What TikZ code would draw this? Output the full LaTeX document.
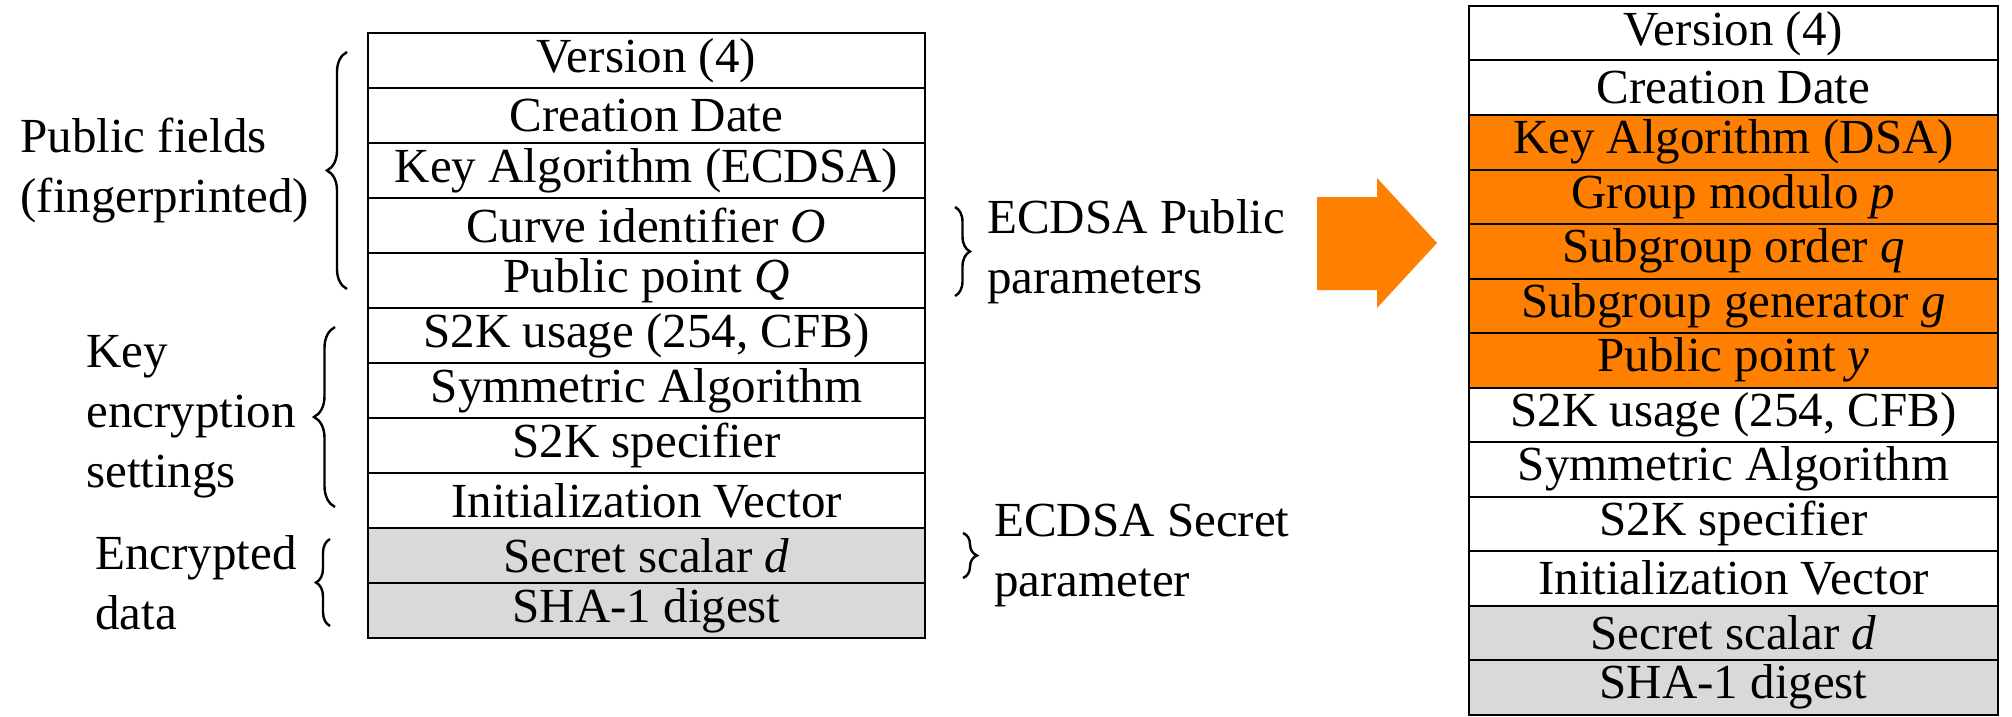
\documentclass[tikz,border=0pt]{standalone}
\usepackage{fontspec}
\setmainfont{Liberation Serif}
\usetikzlibrary{
  calc,
  decorations.pathreplacing,
  positioning
}
\definecolor{swap orange}{RGB}{255,128,0}
\definecolor{secret gray}{RGB}{217,217,217}
\tikzset{
  % For all texts.
  text font/.style={
    font=\fontsize{24.5pt}{30pt}\selectfont},
%
  % For the rows of a key packet.
  field/.style={
    draw,
    line width=1pt,
    rectangle,
    inner sep=0pt,
    outer sep=0pt,
    text font},
%
  % For the rows of the original ECDSA packet.
  ecdsa field/.style={
    field,
    minimum width=278.5pt,
    minimum height=27.5pt},
%
  % For the rows of the forged DSA packet.
  dsa field/.style={
    field,
    minimum width=264.5pt,
    minimum height=27.25pt},
%
  % For rows that stay encrypted.
  encrypted/.style={
    fill=secret gray},
%
  % For rows that get replaced.
  replaced/.style={
    fill=swap orange},
%
  % For curly braces grouping rows.
  group brace/.style={
    decorate,
    decoration={brace, amplitude=#1},
    line width=1.2pt},
%
  % For the names of the groups.
  description/.style={
    text font,
    align=left,
    inner sep=0pt}
}

\begin{document}
\begin{tikzpicture}[x=0.5pt, y=-0.5pt]
  \useasboundingbox (0,0) rectangle (2012,717);

  % Original ECDSA packet.
  \node[ecdsa field] (ecdsa version) at (646.5,60.5) {Version (4)};
  \node[ecdsa field, below=0pt of ecdsa version] (ecdsa date) {Creation Date};
  \node[ecdsa field, below=0pt of ecdsa date] (ecdsa algo) {Key Algorithm (ECDSA)};
  \node[ecdsa field, below=0pt of ecdsa algo] (ecdsa curve) {Curve identifier \textit{O}};
  \node[ecdsa field, below=0pt of ecdsa curve] (ecdsa point) {Public point \textit{Q}};
  \node[ecdsa field, below=0pt of ecdsa point] (ecdsa usage) {S2K usage (254, CFB)};
  \node[ecdsa field, below=0pt of ecdsa usage] (ecdsa sym) {Symmetric Algorithm};
  \node[ecdsa field, below=0pt of ecdsa sym] (ecdsa spec) {S2K specifier};
  \node[ecdsa field, below=0pt of ecdsa spec] (ecdsa iv) {Initialization Vector};
  \node[ecdsa field, encrypted,
        below=0pt of ecdsa iv] (ecdsa secret) {Secret scalar \textit{d}};
  \node[ecdsa field, encrypted,
        below=0pt of ecdsa secret] (ecdsa digest) {SHA-1 digest};

  \draw[group brace=10pt] ($(ecdsa point.south west) + (-21,-19)$)
                            -- ($(ecdsa version.north west) + (-21,19)$)
        node [description, midway, anchor=east, xshift=-18.5pt]
             (public fields) {Public fields\\(fingerprinted)};
  \draw[group brace=10.5pt] ($(ecdsa iv.south west) + (-33,-21)$)
                              -- ($(ecdsa usage.north west) + (-33,19)$)
        node [description, midway, anchor=east, xshift=-19pt]
             (key settings) {Key\\encryption\\settings};
  \draw[group brace=7pt] ($(ecdsa digest.south west) + (-38,-12)$)
                           -- ($(ecdsa secret.north west) + (-38,11)$)
        node [description, midway, anchor=east, xshift=-16pt]
             (encrypted data) {Encrypted\\data};

  \draw[group brace=7.5pt] ($(ecdsa curve.north east) + (30,9)$)
                             -- ($(ecdsa point.south east) + (30,-12)$)
        node [description, midway, anchor=west, xshift=15.5pt]
             (public params) {ECDSA Public\\parameters};
  \draw[group brace=7pt] ($(ecdsa secret.north east) + (38,5)$)
                           -- ($(ecdsa secret.south east) + (38,-5)$)
        node [description, midway, anchor=west, xshift=15pt]
             (secret param) {ECDSA Secret\\parameter};

  % Swapping the algorithm.
  \fill[swap orange] (1317,197) -- (1377,197) -- (1377,178) -- (1437,243)
                     -- (1377,308) -- (1377,290) -- (1317,290) -- cycle;

  % Forged DSA packet.
  \node[dsa field] (dsa version) at (1733.5,33.25) {Version (4)};
  \node[dsa field, below=0pt of dsa version] (dsa date) {Creation Date};
  \node[dsa field, replaced,
        below=0pt of dsa date] (dsa algo) {Key Algorithm (DSA)};
  \node[dsa field, replaced,
        below=0pt of dsa algo] (dsa modulo) {Group modulo \textit{p}};
  \node[dsa field, replaced,
        below=0pt of dsa modulo] (dsa order) {Subgroup order \textit{q}};
  \node[dsa field, replaced,
        below=0pt of dsa order] (dsa generator) {Subgroup generator \textit{g}};
  \node[dsa field, replaced,
        below=0pt of dsa generator] (dsa point) {Public point \textit{y}};
  \node[dsa field, below=0pt of dsa point] (dsa usage) {S2K usage (254, CFB)};
  \node[dsa field, below=0pt of dsa usage] (dsa sym) {Symmetric Algorithm};
  \node[dsa field, below=0pt of dsa sym] (dsa spec) {S2K specifier};
  \node[dsa field, below=0pt of dsa spec] (dsa iv) {Initialization Vector};
  \node[dsa field, encrypted,
        below=0pt of dsa iv] (dsa secret) {Secret scalar \textit{d}};
  \node[dsa field, encrypted,
        below=0pt of dsa secret] (dsa digest) {SHA-1 digest};
\end{tikzpicture}
\end{document}
